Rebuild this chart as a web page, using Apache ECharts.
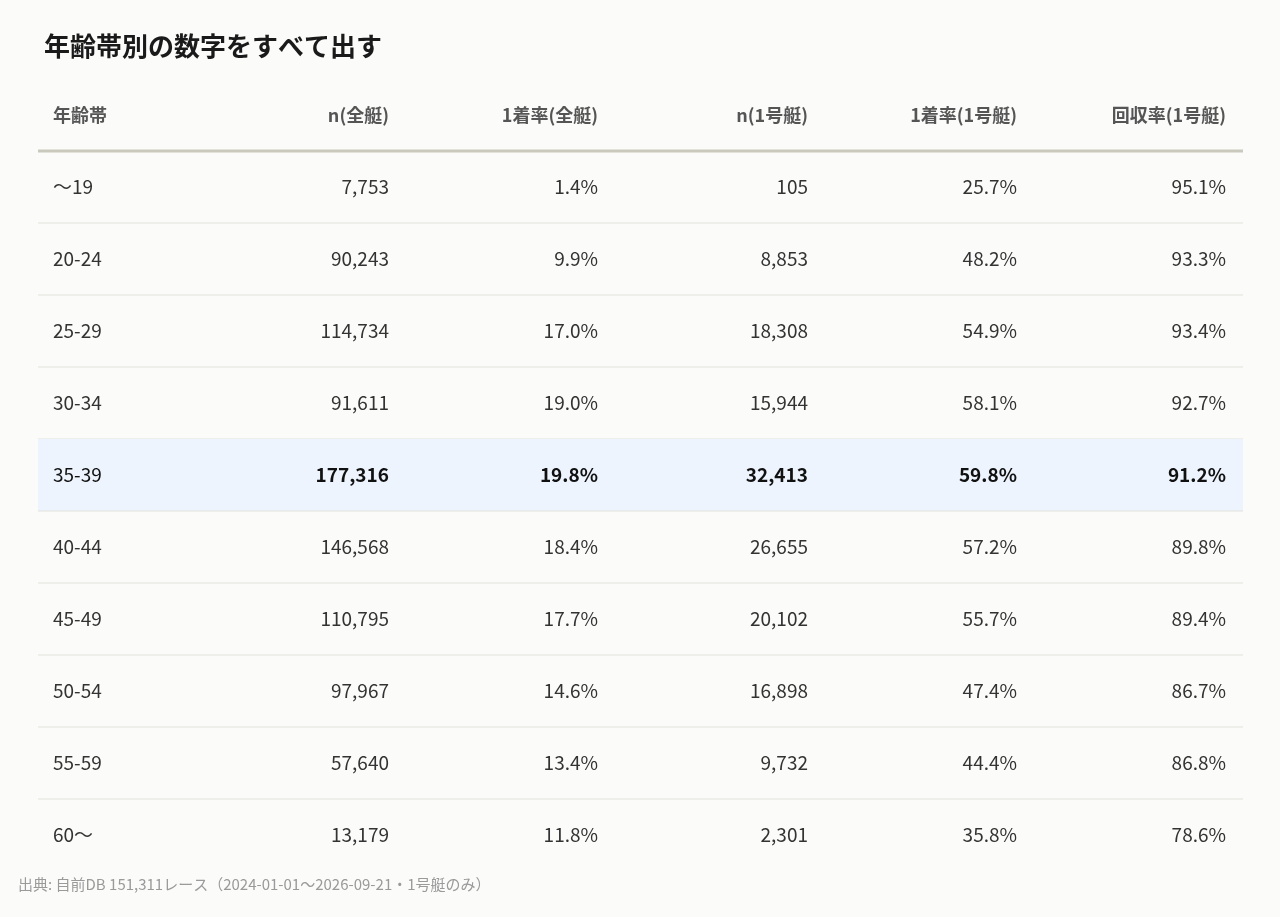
<!DOCTYPE html>
<html><head><meta charset="utf-8">
<script src="https://cdn.jsdelivr.net/npm/echarts@6/dist/echarts.min.js"></script>
<style>html,body{margin:0;background:#fbfbf9}#c{width:1280px;height:917px}</style>
</head><body><div id="c"></div>
<script>
var headers = ['年齢帯', 'n(全艇)', '1着率(全艇)', 'n(1号艇)', '1着率(1号艇)', '回収率(1号艇)'];
var ageBands = ['〜19', '20-24', '25-29', '30-34', '35-39', '40-44', '45-49', '50-54', '55-59', '60〜'];
var nAll = ['7,753', '90,243', '114,734', '91,611', '177,316', '146,568', '110,795', '97,967', '57,640', '13,179'];
var winAll = ['1.4%', '9.9%', '17.0%', '19.0%', '19.8%', '18.4%', '17.7%', '14.6%', '13.4%', '11.8%'];
var nBoat1 = ['105', '8,853', '18,308', '15,944', '32,413', '26,655', '20,102', '16,898', '9,732', '2,301'];
var winBoat1 = ['25.7%', '48.2%', '54.9%', '58.1%', '59.8%', '57.2%', '55.7%', '47.4%', '44.4%', '35.8%'];
var returnBoat1 = ['95.1%', '93.3%', '93.4%', '92.7%', '91.2%', '89.8%', '89.4%', '86.7%', '86.8%', '78.6%'];
var highlightRow = '35-39';

var rowNames = ['header'].concat(ageBands);
var columns = [ageBands, nAll, winAll, nBoat1, winBoat1, returnBoat1];
// text anchor offsets from grid left (layout)
var colX = [15, 351, 560, 770, 979, 1188];

var data = [];
rowNames.forEach(function (r, ri) {
  for (var c = 0; c < 6; c++) {
    data.push([c, r, ri === 0 ? headers[c] : columns[c][ri - 1], ri]);
  }
});

var chart = echarts.init(document.getElementById('c'));
var font = '"Noto Sans CJK JP", "Noto Sans", sans-serif';
chart.setOption({
  backgroundColor: '#fbfbf9',
  title: {
    text: '年齢帯別の数字をすべて出す', left: 39, top: 28,
    textStyle: { fontFamily: font, fontSize: 26, fontWeight: 'bold', color: '#1a1a1a' }
  },
  graphic: [{
    type: 'text', left: 18, top: 877,
    style: { text: '出典: 自前DB 151,311レース（2024-01-01〜2026-09-21・1号艇のみ）', fill: '#9a9a9a', font: '15px ' + font }
  }],
  grid: { left: 38, right: 37, top: 79, height: 792 },
  xAxis: { type: 'value', min: 0, max: 6, show: false },
  yAxis: { type: 'category', data: rowNames, inverse: true, show: false },
  series: [{
    type: 'custom',
    data: data,
    renderItem: function (params, api) {
      var c = api.value(0), ri = api.value(3);
      var rowName = rowNames[ri];
      var center = api.coord([0, ri]);
      var h = api.size([0, 1])[1];
      var left = params.coordSys.x, width = params.coordSys.width;
      var isHead = ri === 0, isHi = rowName === highlightRow;
      var children = [];
      if (c === 0) {
        if (isHi) children.push({ type: 'rect', shape: { x: left, y: center[1] - h / 2, width: width, height: h }, style: { fill: '#edf4fe' } });
        if (ri < rowNames.length - 1) {
          var lw = isHead ? 3 : 1;
          children.push({ type: 'rect', shape: { x: left, y: center[1] + h / 2 - lw / 2, width: width, height: lw },
            style: { fill: isHead ? '#c9c9bd' : '#e2e2de' } });
        }
      }
      children.push({
        type: 'text', x: left + colX[c], y: center[1],
        style: {
          text: data[params.dataIndex][2],
          textAlign: c === 0 ? 'left' : 'right', textVerticalAlign: 'middle',
          fill: isHead ? '#555' : (isHi ? '#111' : '#333'),
          font: (isHead || (isHi && c > 0) ? 'bold ' : '') + (isHead ? '18px ' : '19px ') + font
        }
      });
      return { type: 'group', children: children };
    }
  }]
});
</script></body></html>
